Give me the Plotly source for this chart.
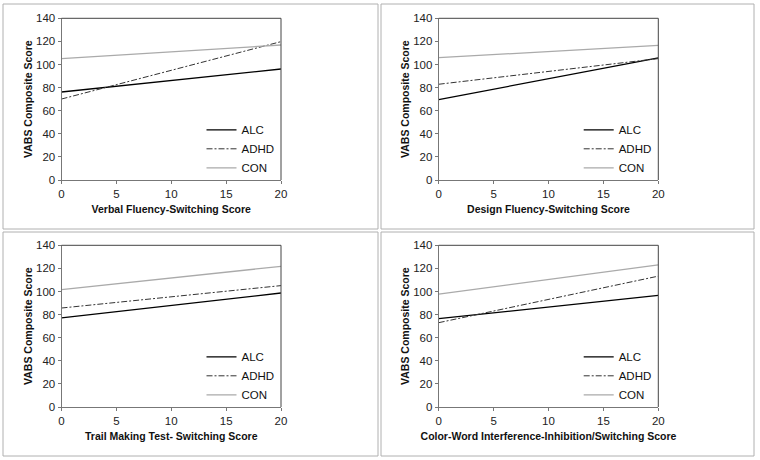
import plotly.graph_objects as go

# ---- data ----
x_vals = [0, 20]
groups = ["ALC", "ADHD", "CON"]
panel_titles = [
    "Verbal Fluency-Switching Score",
    "Design Fluency-Switching Score",
    "Trail Making Test- Switching Score",
    "Color-Word Interference-Inhibition/Switching Score",
]
y_title = "VABS Composite Score"
x_ticks = [0, 5, 10, 15, 20]
y_ticks = [0, 20, 40, 60, 80, 100, 120, 140]

verbal_alc = [76.2, 96.1]
verbal_adhd = [70.1, 119.8]
verbal_con = [105.1, 116.9]

design_alc = [69.6, 105.7]
design_adhd = [82.9, 105.1]
design_con = [105.9, 116.6]

trail_alc = [77.1, 98.7]
trail_adhd = [85.7, 105.1]
trail_con = [101.6, 121.8]

color_alc = [76.5, 96.6]
color_adhd = [73.0, 113.3]
color_con = [97.7, 123.0]

panels = [
    [verbal_alc, verbal_adhd, verbal_con],
    [design_alc, design_adhd, design_con],
    [trail_alc, trail_adhd, trail_con],
    [color_alc, color_adhd, color_con],
]

# ---- styles ----
W, H = 760, 460
FONT = "Liberation Sans, Arial, sans-serif"
line_styles = {
    "ALC": dict(color="#000000", width=1.3, dash="solid"),
    "ADHD": dict(color="#333333", width=1, dash="6px,2px,2px,2px"),
    "CON": dict(color="#aaaaaa", width=1.3, dash="solid"),
}

# plot areas in pixels: (left, right, top, bottom)
areas = [
    (61.5, 281, 18.3, 180),
    (438.7, 658.3, 18.3, 180),
    (61.5, 281, 245.3, 407),
    (438.7, 658.3, 245.3, 407),
]
frames = [
    (3, 378, 4, 229),
    (381, 754, 4, 229),
    (3, 378, 232, 456),
    (381, 754, 232, 456),
]

fig = go.Figure()
for i, (vals, xt) in enumerate(zip(panels, panel_titles)):
    n = "" if i == 0 else str(i + 1)
    leg = "legend" if i == 0 else f"legend{i+1}"
    for g, v in zip(groups, vals):
        fig.add_trace(go.Scatter(
            x=x_vals, y=v, mode="lines", name=g, line=line_styles[g],
            xaxis="x" + n, yaxis="y" + n, legend=leg, showlegend=True,
            hoverinfo="skip",
        ))
    l, r, t, b = areas[i]
    axis_common = dict(
        showgrid=False, zeroline=False, showline=True, linecolor="#777777",
        linewidth=1, mirror=False, ticks="outside", ticklen=3, tickcolor="#777777",
        automargin=False,
        tickfont=dict(family=FONT, size=11.5, color="#222222"),
    )
    fig.layout["xaxis" + n] = dict(
        domain=[l / W, r / W], anchor="y" + n, range=[0, 20],
        tickvals=x_ticks, title=dict(text="<b>%s</b>" % xt, standoff=6,
                                     font=dict(family=FONT, size=10.5, color="#111111")),
        **axis_common,
    )
    fig.layout["yaxis" + n] = dict(
        domain=[1 - b / H, 1 - t / H], anchor="x" + n, range=[0, 140],
        tickvals=y_ticks, title=dict(text="<b>%s</b>" % y_title, standoff=1,
                                     font=dict(family=FONT, size=10.5, color="#111111")),
        **axis_common,
    )
    # top and right borders of the plot area
    fig.add_shape(type="line", xref="paper", yref="paper",
                  x0=l / W, x1=r / W, y0=1 - t / H, y1=1 - t / H,
                  line=dict(color="#444444", width=1))
    fig.add_shape(type="line", xref="paper", yref="paper",
                  x0=r / W, x1=r / W, y0=1 - t / H, y1=1 - b / H,
                  line=dict(color="#444444", width=1))
    # panel frame
    fl, fr, ft, fb = frames[i]
    fig.add_shape(type="rect", xref="paper", yref="paper",
                  x0=fl / W, x1=fr / W, y0=1 - fb / H, y1=1 - ft / H,
                  line=dict(color="#b0b0b0", width=1), layer="below")
    fig.layout[leg] = dict(
        x=(l + 140) / W, y=1 - (t + 97) / H, xanchor="left", yanchor="top",
        bgcolor="rgba(0,0,0,0)", borderwidth=0,
        font=dict(family=FONT, size=11.5, color="#111111"),
        tracegroupgap=0, itemwidth=30,
    )

fig.update_layout(
    width=W, height=H, margin=dict(l=0, r=0, t=0, b=0, autoexpand=False),
    paper_bgcolor="white", plot_bgcolor="white",
    font=dict(family=FONT, size=11, color="#111111"),
)
fig.write_html("out.html", config={"displayModeBar": False},
               post_script="document.body.style.margin='0';")
